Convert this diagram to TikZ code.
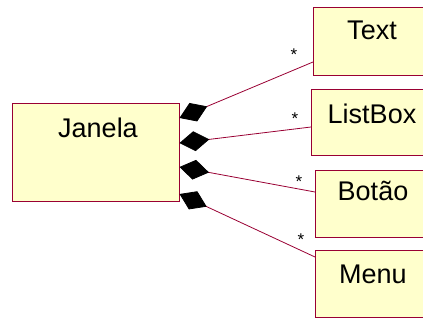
\documentclass[tikz,border=0pt]{standalone}
\usepackage{fontspec}
\setmainfont{Liberation Sans}
\usetikzlibrary{arrows.meta}
\definecolor{boxfill}{RGB}{255,255,204}
\definecolor{boxline}{RGB}{153,0,51}
\tikzset{
  umlbox/.style={draw=boxline, fill=boxfill, line width=1.1pt, anchor=north west, inner sep=0pt},
  lbl/.style={font=\fontsize{27}{30}\selectfont, anchor=base, inner sep=0pt},
  mult/.style={font=\fontsize{17}{18}\selectfont, anchor=base, inner sep=0pt},
  comp/.style={draw=boxline, line width=0.8pt, {Diamond[length=30pt,width=20pt,fill=black,color=black]}-},
}
\begin{document}
\begin{tikzpicture}[x=1pt,y=-1pt]
\useasboundingbox (0,0) rectangle (423,321);
\begin{scope}
\clip (0,0) rectangle (423,321);
\node[umlbox, minimum width=167pt, minimum height=98pt] (jan) at (12,103) {};
\node[umlbox, minimum width=130pt, minimum height=68pt] (text) at (313,7) {};
\node[umlbox, minimum width=130pt, minimum height=66pt] (list) at (311,89) {};
\node[umlbox, minimum width=130pt, minimum height=67pt] (bot) at (315,170) {};
\node[umlbox, minimum width=130pt, minimum height=67pt] (menu) at (315,250) {};
\end{scope}
\node[lbl] (janL) at (98,137) {Janela};
\node[lbl] (textL) at (372,40) {Text};
\node[lbl] (listL) at (372,123) {ListBox};
\node[lbl] (botL) at (373,200) {Botão};
\node[lbl] (menuL) at (373,283) {Menu};
\coordinate (j1) at (179.5,118);
\coordinate (j2) at (179.5,143);
\coordinate (j3) at (179.5,167);
\coordinate (j4) at (179.5,194);
\coordinate (t1) at (313,62);
\coordinate (t2) at (311,127);
\coordinate (t3) at (315,192);
\coordinate (t4) at (315,257);
\draw[comp] (j1) -- (t1);
\draw[comp] (j2) -- (t2);
\draw[comp] (j3) -- (t3);
\draw[comp] (j4) -- (t4);
\node[mult] (m1) at (294,60) {*};
\node[mult] (m2) at (295,124) {*};
\node[mult] (m3) at (299,187) {*};
\node[mult] (m4) at (301,245) {*};
\end{tikzpicture}
\end{document}
